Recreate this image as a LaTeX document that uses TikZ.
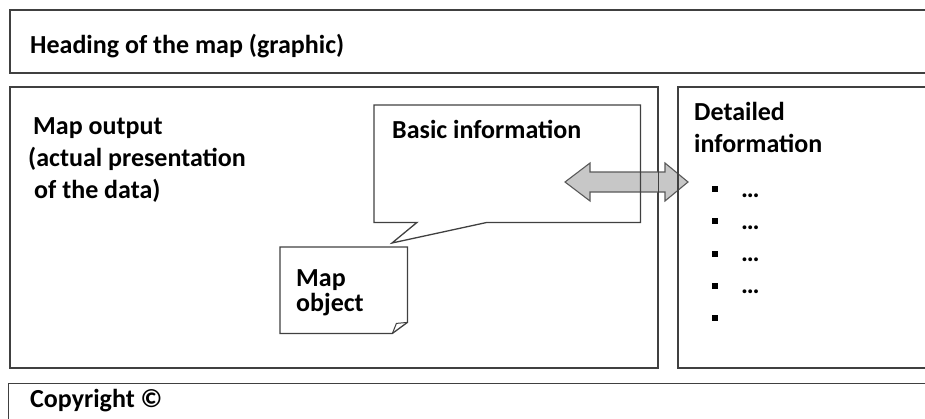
\documentclass[tikz,border=0pt]{standalone}
\usepackage{fontspec}
\setmainfont{Carlito}
\usepackage{tikz}
\usetikzlibrary{positioning,calc}

\begin{document}
\begin{tikzpicture}[x=1pt, y=-1pt,
    panel/.style={rectangle, draw=black!75, line width=1.3pt, inner sep=0pt, anchor=north west},
    label/.style={inner sep=0pt, anchor=base west, align=left, font=\bfseries\fontsize{26}{32}\selectfont},
    outline/.style={draw=black!75, line width=1.3pt, line join=miter},
    bulletmark/.style={rectangle, fill=black, inner sep=0pt, minimum size=6pt},
    linkarrow/.style={draw=black!65, fill=black!22, line width=1.1pt, line join=miter}]
        \clip (0,0) rectangle (925,418);
        % Nodes
        \coordinate (linkl) at (565,182);
        \coordinate (linkr) at (688,182);
        \node[panel, minimum width=930pt, minimum height=62pt] (heading) at (10,10) {};
        \node[panel, minimum width=647pt, minimum height=280pt] (mapout) at (10,87) {};
        \node[panel, minimum width=262pt, minimum height=280pt] (detail) at (678,87) {};
        \node[panel, minimum width=932pt, minimum height=60pt] (copyright) at (8,383) {};
        \node[rectangle, inner sep=0pt, anchor=north west, minimum width=266pt, minimum height=117pt] (basic) at (374,105) {};
        \node[rectangle, inner sep=0pt, anchor=north west, minimum width=127pt, minimum height=86pt] (mapobj) at (280,247) {};
        \coordinate (tip) at (392,243);

        \node[label] (headingtext) at (30,53) {Heading of the map (graphic)};
        \node[label] (mapouttext) at (28,198) {\hspace{5pt}Map output\\(actual presentation\\\hspace{6pt}of the data)};
        \node[label] (basictext) at (392,138) {Basic information};
        \node[label, font=\bfseries\fontsize{26}{25}\selectfont] (mapobjtext) at (296,311) {Map\\object};
        \node[label] (detailtext) at (694,152) {Detailed\\information};
        \node[label] (copyrighttext) at (30,407) {Copyright ©};
        \foreach \i in {1,...,5}
            \node[bulletmark] (bul\i) at (715,{157+32.2*\i}) {};
        \foreach \i in {1,...,4}
            \node[label] (dots\i) at (741,{165+32.2*\i}) {…};

        % Edges
        \draw[linkarrow] (linkl) -- ++(25,-19) -- ++(0,9) -- ($(linkr)+(-23,-10)$) -- ++(0,-9)
            -- (linkr) -- ++(-23,19) -- ++(0,-9) -- ($(linkl)+(25,10)$) -- ++(0,9) -- cycle;
        \draw[panel] (heading.north west) rectangle (heading.south east);
        \draw[panel] (mapout.north west) rectangle (mapout.south east);
        \draw[panel] (detail.north west) rectangle (detail.south east);
        \draw[outline] (basic.north west) -- (basic.north east) -- (basic.south east)
            -- ($(basic.south west)+(113,0)$) -- (tip) -- ($(basic.south west)+(43,0)$)
            -- (basic.south west) -- cycle;
        \draw[outline] (mapobj.north west) -- (mapobj.north east) -- ($(mapobj.south east)+(0,-11)$)
            -- ($(mapobj.south east)+(-15,0)$) -- (mapobj.south west) -- cycle;
        \draw[outline, line width=1pt] ($(mapobj.south east)+(-15,0)$) -- ($(mapobj.south east)+(-11,-10)$)
            -- ($(mapobj.south east)+(0,-11)$);
    \end{tikzpicture}
\end{document}
